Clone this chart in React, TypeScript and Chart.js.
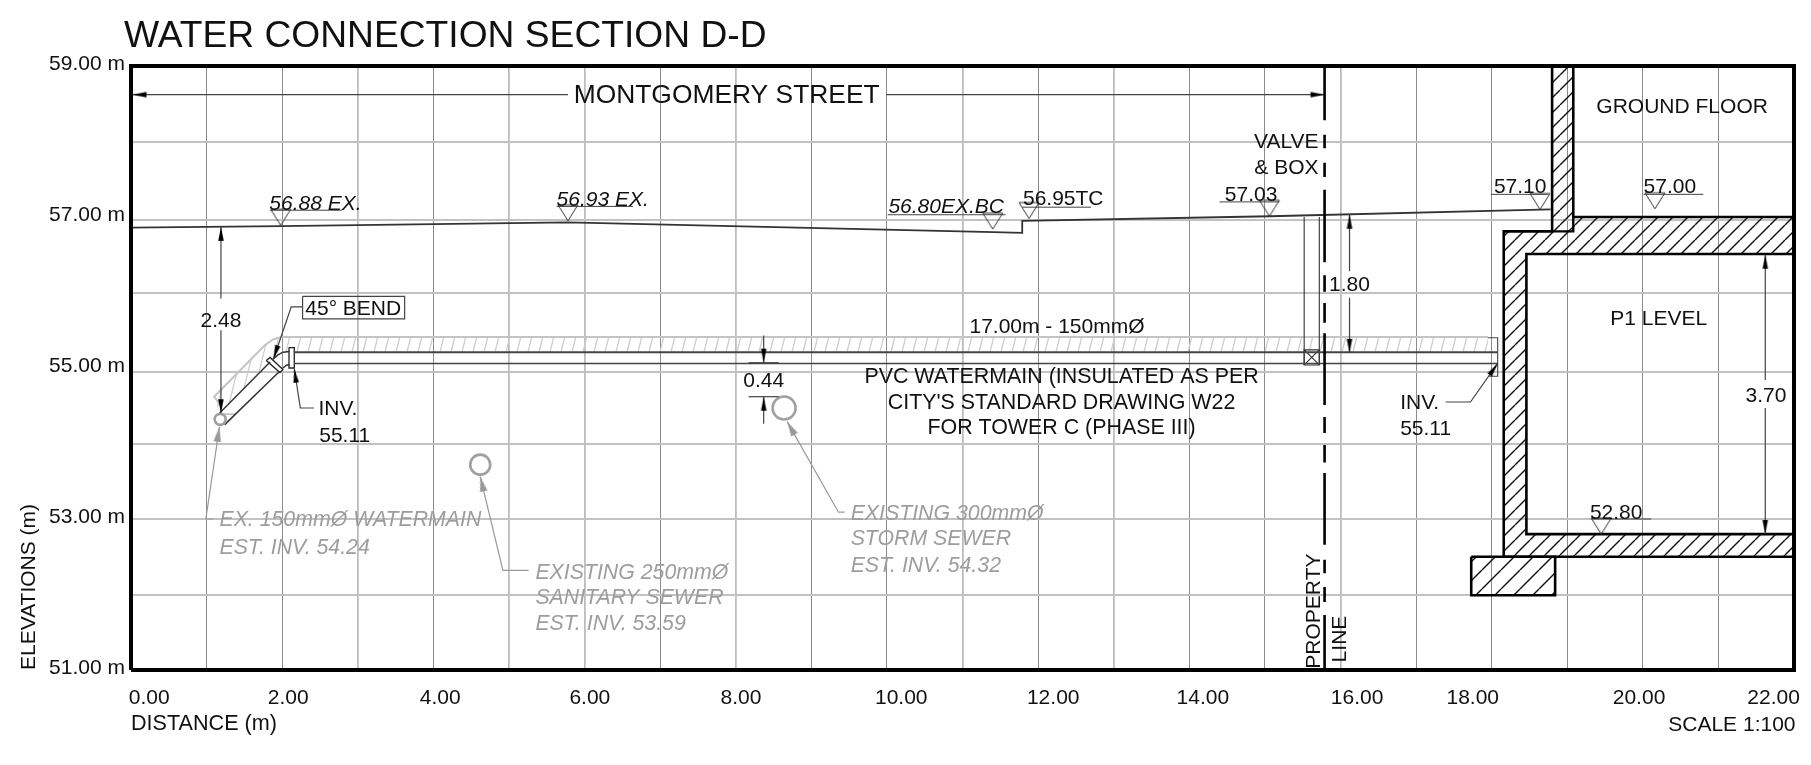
import React, { useEffect, useRef } from "react";
import { Chart, registerables } from "chart.js";

Chart.register(...registerables);

type P = [number, number];

const FONT = '"Liberation Sans", Arial, sans-serif';

// axes
const xGridValues = [0, 1, 2, 3, 4, 5, 6, 7, 8, 9, 10, 11, 12, 13, 14, 15, 16, 17, 18, 19, 20, 21, 22];
const xGridDark = [0, 1, 2, 4, 7, 9, 10, 12, 14, 15, 17, 18, 19, 20, 21];
const yGridValues = [51, 52, 53, 54, 54.95, 56, 56.96, 58, 59];
const xTickLabels = ["0.00", "2.00", "4.00", "6.00", "8.00", "10.00", "12.00", "14.00", "16.00", "18.00", "20.00", "22.00"];
const xTickPlaces = [0.24, 2.08, 4.09, 6.07, 8.07, 10.19, 12.2, 14.18, 16.22, 17.75, 19.95, 21.73];
const yTickValues = [51, 53, 55, 57, 59];

// ground and structure
const groundLine: P[] = [[0, 56.86], [1.98, 56.88], [5.78, 56.93], [11.41, 56.8], [11.79, 56.79], [11.79, 56.95], [15.07, 57.01], [18.78, 57.1]];
const pipeTop: P[] = [[2.16, 55.21], [18.08, 55.21]];
const pipeBottom: P[] = [[2.16, 55.06], [18.08, 55.06]];
const bendUpper: P[] = [[1.87, 55.11], [1.94, 55.17], [2.01, 55.21], [2.1, 55.22]];
const bendLower: P[] = [[2.01, 55.0], [2.06, 55.04], [2.1, 55.04]];
const diagUpper: P[] = [[1.17, 54.4], [1.84, 55.08]];
const diagLower: P[] = [[1.24, 54.25], [1.96, 54.95]];
const diagFoot: P[] = [[1.18, 54.39], [1.38, 54.39], [1.24, 54.25]];
const bendFlange: P[] = [[1.79, 55.1], [1.84, 55.14], [2.01, 54.98], [1.97, 54.94], [1.79, 55.1]];
const pipeFlange: P[] = [[2.09, 55.27], [2.16, 55.27], [2.16, 55.0], [2.09, 55.0], [2.09, 55.27]];
const insulationShape: P[] = [[1.1, 54.62], [1.77, 55.3], [1.88, 55.38], [1.99, 55.41], [17.95, 55.41], [17.95, 55.22], [2.1, 55.22], [1.94, 55.17], [1.87, 55.11], [1.17, 54.4], [1.1, 54.62]];
const insulationEdge: P[] = [[1.18, 54.51], [1.1, 54.62], [1.77, 55.3], [1.88, 55.38], [1.99, 55.41], [17.95, 55.41]];
const pipeEndBracket: P[] = [[17.95, 55.4], [18.08, 55.4], [18.08, 54.89], [17.96, 54.89]];
const valveLeft: P[] = [[15.52, 57.0], [15.52, 55.04]];
const valveRight: P[] = [[15.72, 57.0], [15.72, 55.04]];
const valveBox: P[] = [[15.52, 55.24], [15.72, 55.24], [15.72, 55.04], [15.52, 55.04], [15.52, 55.24], [15.72, 55.04]];
const valveCross: P[] = [[15.72, 55.24], [15.52, 55.04]];
const buildingShape: P[] = [[18.8, 59], [19.08, 59], [19.08, 57], [22, 57], [22, 56.51], [18.46, 56.51], [18.46, 52.8], [22, 52.8], [22, 52.5], [18.16, 52.5], [18.16, 56.81], [18.8, 56.81], [18.8, 59]];
const columnStep: P[] = [[18.8, 56.81], [19.08, 56.81], [19.08, 57]];
const footingShape: P[] = [[17.73, 52.5], [18.84, 52.5], [18.84, 51.99], [17.73, 51.99], [17.73, 52.5]];
const propertyDashes: P[] = [[59, 58.28], [58.09, 57.91], [57.72, 57.53], [57.36, 56.4], [56.23, 56.01], [55.86, 55.6], [55.46, 54.51], [54.35, 54.14], [53.98, 53.75], [53.61, 52.66], [52.46, 52.28], [52.1, 51.9], [51.73, 51]];
const propertyLineX = 15.79;

// existing services
const serviceCentres = [{ x: 1.18, y: 54.32 }, { x: 4.62, y: 53.72 }, { x: 8.64, y: 54.47 }];
const serviceRadii = [5.5, 10, 11.5];

// leaders and dimensions
const darkLeaders: P[][] = [
  [[0, 58.62], [5.78, 58.62]],
  [[9.99, 58.62], [15.79, 58.62]],
  [[1.19, 56.87], [1.19, 55.92]],
  [[1.19, 55.5], [1.19, 54.4]],
  [[16.12, 57.03], [16.12, 56.28]],
  [[16.12, 55.93], [16.12, 55.2]],
  [[21.62, 56.5], [21.62, 54.84]],
  [[21.62, 54.47], [21.62, 52.8]],
  [[8.37, 55.43], [8.37, 55.07]],
  [[8.37, 54.62], [8.37, 54.26]],
  [[8.17, 55.07], [8.57, 55.07]],
  [[8.17, 54.62], [8.57, 54.62]],
  [[2.27, 55.81], [2.12, 55.81], [1.885, 55.12]],
  [[2.42, 54.47], [2.24, 54.47], [2.16, 54.99]],
  [[17.39, 54.55], [17.72, 54.55], [18.08, 55.06]],
  [[2.27, 55.95], [3.62, 55.95], [3.62, 55.65], [2.27, 55.65], [2.27, 55.95]],
];
const greyLeaders: P[][] = [
  [[1.09, 53.0], [0.99, 53.0], [1.17, 54.22]],
  [[5.26, 52.32], [4.92, 52.32], [4.62, 53.56]],
  [[9.44, 53.09], [9.36, 53.09], [8.68, 54.29]],
];
const blackArrowTips = [
  { x: 1.19, y: 56.87 }, { x: 1.19, y: 54.4 }, { x: 0.02, y: 58.62 }, { x: 15.79, y: 58.62 },
  { x: 1.885, y: 55.12 }, { x: 2.16, y: 54.99 }, { x: 16.12, y: 57.03 }, { x: 16.12, y: 55.2 },
  { x: 8.37, y: 55.07 }, { x: 8.37, y: 54.62 }, { x: 18.08, y: 55.06 }, { x: 21.62, y: 56.5 }, { x: 21.62, y: 52.8 },
];
const blackArrowTurns = [0, 180, -90, 90, 198, -8, 0, 180, 180, 0, 35, 0, 180];
const greyArrowTips = [{ x: 1.17, y: 54.22 }, { x: 4.62, y: 53.56 }, { x: 8.68, y: 54.29 }];
const greyArrowTurns = [8.6, -13.7, -29.5];

// elevation markers
const levelMarkers = [
  { x: 1.98, y: 56.89 }, { x: 5.78, y: 56.95 }, { x: 11.4, y: 56.84 }, { x: 11.88, y: 56.98 },
  { x: 15.06, y: 57.01 }, { x: 18.64, y: 57.1 }, { x: 20.16, y: 57.11 }, { x: 19.45, y: 52.8 },
];
const levelUnderlines: P[][] = [
  [[1.84, 57.09], [2.79, 57.09]],
  [[5.63, 57.14], [6.64, 57.14]],
  [[10.01, 57.03], [11.57, 57.03]],
  [[11.79, 57.13], [12.7, 57.13]],
  [[14.4, 57.2], [15.19, 57.2]],
  [[17.99, 57.3], [18.75, 57.3]],
  [[20.01, 57.3], [20.8, 57.3]],
  [[19.32, 53.0], [20.11, 53.0]],
];

// notes
type Note = { t: string; x: number; y: number; size?: number; align?: CanvasTextAlign; grey?: boolean; italic?: boolean; turn?: boolean };
const notes: Note[] = [
  { t: "MONTGOMERY STREET", x: 7.88, y: 58.62, size: 26.4 },
  { t: "GROUND FLOOR", x: 20.52, y: 58.47 },
  { t: "P1 LEVEL", x: 20.21, y: 55.67 },
  { t: "VALVE", x: 15.71, y: 58.01, align: "right" },
  { t: "& BOX", x: 15.71, y: 57.67, align: "right" },
  { t: "1.80", x: 16.12, y: 56.11 },
  { t: "2.48", x: 1.19, y: 55.64 },
  { t: "3.70", x: 21.63, y: 54.65 },
  { t: "0.44", x: 8.37, y: 54.84 },
  { t: "45° BEND", x: 2.94, y: 55.8 },
  { t: "INV.", x: 2.48, y: 54.47, align: "left" },
  { t: "55.11", x: 2.49, y: 54.11, align: "left" },
  { t: "INV.", x: 16.79, y: 54.55, align: "left" },
  { t: "55.11", x: 16.79, y: 54.21, align: "left" },
  { t: "17.00m - 150mmØ", x: 12.25, y: 55.56 },
  { t: "PVC WATERMAIN (INSULATED AS PER", x: 12.31, y: 54.9, size: 21.4 },
  { t: "CITY'S STANDARD DRAWING W22", x: 12.31, y: 54.56, size: 21.4 },
  { t: "FOR TOWER C (PHASE III)", x: 12.31, y: 54.23, size: 21.4 },
  { t: "EX. 150mmØ WATERMAIN", x: 1.17, y: 53.0, align: "left", grey: true, italic: true, size: 21.3 },
  { t: "EST. INV. 54.24", x: 1.17, y: 52.64, align: "left", grey: true, italic: true, size: 21.3 },
  { t: "EXISTING 250mmØ", x: 5.35, y: 52.31, align: "left", grey: true, italic: true, size: 21.3 },
  { t: "SANITARY SEWER", x: 5.35, y: 51.97, align: "left", grey: true, italic: true, size: 21.3 },
  { t: "EST. INV. 53.59", x: 5.35, y: 51.63, align: "left", grey: true, italic: true, size: 21.3 },
  { t: "EXISTING 300mmØ", x: 9.52, y: 53.09, align: "left", grey: true, italic: true, size: 21.3 },
  { t: "STORM SEWER", x: 9.52, y: 52.75, align: "left", grey: true, italic: true, size: 21.3 },
  { t: "EST. INV. 54.32", x: 9.52, y: 52.4, align: "left", grey: true, italic: true, size: 21.3 },
  { t: "56.88 EX.", x: 1.83, y: 57.19, align: "left", italic: true },
  { t: "56.93 EX.", x: 5.63, y: 57.24, align: "left", italic: true },
  { t: "56.80EX.BC", x: 10.02, y: 57.15, align: "left", italic: true },
  { t: "56.95TC", x: 11.8, y: 57.26, align: "left" },
  { t: "57.03", x: 14.47, y: 57.31, align: "left" },
  { t: "57.10", x: 18.03, y: 57.41, align: "left" },
  { t: "57.00", x: 20.01, y: 57.41, align: "left" },
  { t: "52.80", x: 19.3, y: 53.1, align: "left" },
  { t: "PROPERTY", x: 15.61, y: 51.78, turn: true },
  { t: "LINE", x: 15.95, y: 51.41, turn: true },
  { t: "SCALE 1:100", x: 22.02, y: 50.29, align: "right" },
];

const toPoints = (pts: P[]) => pts.map(([x, y]) => ({ x, y }));

function hatchPattern(ctx: CanvasRenderingContext2D, w: number, h: number, color: string, lw: number) {
  const tile = document.createElement("canvas");
  tile.width = w;
  tile.height = h;
  const c = tile.getContext("2d")!;
  c.strokeStyle = color;
  c.lineWidth = lw;
  for (const dx of [-w, 0, w]) {
    c.beginPath();
    c.moveTo(dx, h);
    c.lineTo(dx + w, 0);
    c.stroke();
  }
  return ctx.createPattern(tile, "repeat")!;
}

function arrowSprite(len: number, wid: number, color: string) {
  const s = document.createElement("canvas");
  s.width = s.height = len * 2 + 2;
  const c = s.getContext("2d")!;
  const m = s.width / 2;
  c.fillStyle = color;
  c.beginPath();
  c.moveTo(m, m);
  c.lineTo(m + wid / 2, m + len);
  c.lineTo(m - wid / 2, m + len);
  c.closePath();
  c.fill();
  return s;
}

function levelSprite() {
  const s = document.createElement("canvas");
  s.width = s.height = 44;
  const c = s.getContext("2d")!;
  c.strokeStyle = "#333";
  c.lineWidth = 1;
  c.beginPath();
  c.moveTo(22, 22);
  c.lineTo(12, 6);
  c.lineTo(32, 6);
  c.closePath();
  c.stroke();
  return s;
}

const notesPlugin = {
  id: "drawingNotes",
  afterLayout(chart: any) {
    if (chart.titleBlock) chart.titleBlock.left = 124;
  },
  afterDatasetsDraw(chart: any) {
    const { ctx, scales } = chart;
    ctx.save();
    ctx.textBaseline = "middle";
    for (const n of notes) {
      const px = scales.x.getPixelForValue(n.x);
      const py = scales.y.getPixelForValue(n.y);
      ctx.save();
      ctx.translate(px, py);
      if (n.turn) ctx.rotate(-Math.PI / 2);
      ctx.font = `${n.italic ? "italic " : ""}${n.size ?? 21}px ${FONT}`;
      ctx.fillStyle = n.grey ? "#9d9d9d" : "#111";
      ctx.textAlign = n.align ?? "center";
      ctx.fillText(n.t, 0, n.turn ? 3.5 : 1.5);
      ctx.restore();
    }
    ctx.restore();
  },
};

export default function App() {
  const ref = useRef<HTMLCanvasElement>(null);
  useEffect(() => {
    document.body.style.margin = "0";
    const canvas = ref.current!;
    const ctx = canvas.getContext("2d")!;
    const hatch = hatchPattern(ctx, 15, 15, "#111", 1.4);
    const hatchWide = hatchPattern(ctx, 19, 19, "#111", 1.4);
    const hatchLight = hatchPattern(ctx, 11, 44, "#cfcfcf", 1.3);

    const line = (pts: P[], color: string, width: number, extra: any = {}) => ({
      type: "scatter",
      data: toPoints(pts),
      showLine: true,
      borderColor: color,
      borderWidth: width,
      backgroundColor: "transparent",
      pointRadius: 0,
      ...extra,
    });

    const datasets: any[] = [
      line([[0, 51], [22, 51], [22, 59], [0, 59], [0, 51]], "#000", 4, { clip: false }),
      ...propertyDashes.map(([a, b]) => line([[propertyLineX, a], [propertyLineX, b]], "#000", 2.6)),
      {
        type: "scatter",
        data: blackArrowTips,
        pointStyle: arrowSprite(14, 5.5, "#000"),
        rotation: blackArrowTurns,
        pointRadius: 5,
      },
      {
        type: "scatter",
        data: greyArrowTips,
        pointStyle: arrowSprite(15, 7.5, "#999"),
        rotation: greyArrowTurns,
        pointRadius: 5,
      },
      ...darkLeaders.map((p) => line(p, "#444", 1.2)),
      ...greyLeaders.map((p) => line(p, "#999", 1.2)),
      {
        type: "scatter",
        data: levelMarkers,
        pointStyle: levelSprite(),
        pointRadius: 5,
      },
      ...levelUnderlines.map((p) => line(p, "#444", 1)),
      {
        type: "scatter",
        data: serviceCentres,
        pointStyle: "circle",
        pointRadius: serviceRadii,
        pointBorderWidth: 2.6,
        pointBorderColor: "#a0a0a0",
        pointBackgroundColor: "transparent",
      },
      line(columnStep, "#000", 2.4),
      line(buildingShape, "#000", 2.6, { fill: "shape", backgroundColor: hatch }),
      line(footingShape, "#000", 2.6, { fill: "shape", backgroundColor: hatchWide }),
      line(groundLine, "#333", 1.8),
      line(pipeTop, "#444", 2),
      line(pipeBottom, "#444", 1.6),
      line(bendUpper, "#333", 1.5),
      line(bendLower, "#333", 1.5),
      line(diagUpper, "#333", 1.5),
      line(diagLower, "#333", 1.5),
      line(diagFoot, "#aaa", 1.2),
      line(bendFlange, "#222", 1.3),
      line(pipeFlange, "#222", 1.3),
      line(pipeEndBracket, "#444", 1.1),
      line(valveLeft, "#333", 1.1),
      line(valveRight, "#333", 1.1),
      line(valveBox, "#333", 1.1),
      line(valveCross, "#333", 1.1),
      line(insulationEdge, "#c4c4c4", 2),
      line(insulationShape, "transparent", 0, { fill: "shape", backgroundColor: hatchLight }),
    ];

    const chart = new Chart(ctx, {
      type: "scatter",
      data: { datasets },
      plugins: [notesPlugin],
      options: {
        animation: false,
        responsive: false,
        devicePixelRatio: 1,
        events: [],
        layout: { padding: { top: 0, right: 17, bottom: 0, left: 0 } },
        plugins: {
          legend: { display: false },
          tooltip: { enabled: false },
          title: {
            display: true,
            text: "WATER CONNECTION SECTION D-D",
            align: "start",
            color: "#111",
            font: { family: FONT, size: 37.2, weight: "normal", lineHeight: 1.2 },
            padding: { top: 14, bottom: 7.36 },
          },
        },
        scales: {
          x: {
            type: "linear",
            min: 0,
            max: 22,
            afterBuildTicks: (s: any) => { s.ticks = xGridValues.map((value) => ({ value })); },
            afterFit: (s: any) => { s.height = 0; },
            ticks: { display: false },
            border: { display: false },
            grid: {
              drawTicks: false,
              color: (c: any) => (xGridDark.includes(c.tick?.value) ? "#8c8c8c" : "#bdbdbd"),
              lineWidth: (c: any) => (xGridDark.includes(c.tick?.value) ? 1 : 1.8),
            },
          },
          xLabels: {
            type: "linear",
            axis: "x",
            position: "bottom",
            min: 0,
            max: 22,
            afterBuildTicks: (s: any) => { s.ticks = xTickPlaces.map((value) => ({ value })); },
            afterFit: (s: any) => { s.height = 95; },
            grid: { display: false },
            border: { display: false },
            ticks: {
              autoSkip: false,
              maxRotation: 0,
              minRotation: 0,
              padding: 8,
              color: "#111",
              font: { family: FONT, size: 21 },
              callback: (_v: any, i: number) => xTickLabels[i],
            },
            title: {
              display: true,
              text: "DISTANCE (m)",
              align: "start",
              color: "#111",
              font: { family: FONT, size: 21.6 },
              padding: { top: 0, bottom: 28 },
            },
          },
          y: {
            type: "linear",
            min: 51,
            max: 59,
            afterBuildTicks: (s: any) => { s.ticks = yGridValues.map((value) => ({ value })); },
            afterFit: (s: any) => { s.width = 0; },
            ticks: { display: false },
            border: { display: false },
            grid: { drawTicks: false, color: "#c2c2c2", lineWidth: 2 },
          },
          yLabels: {
            type: "linear",
            axis: "y",
            position: "left",
            min: 50.97,
            max: 58.97,
            afterBuildTicks: (s: any) => { s.ticks = yTickValues.map((value) => ({ value })); },
            afterFit: (s: any) => { s.width = 131; },
            grid: { display: false },
            border: { display: false },
            ticks: {
              autoSkip: false,
              padding: -2,
              color: "#111",
              font: { family: FONT, size: 21 },
              callback: (v: any) => `${Number(v).toFixed(2)} m`,
            },
            title: {
              display: true,
              text: "ELEVATIONS (m)",
              align: "start",
              color: "#111",
              font: { family: FONT, size: 21 },
              padding: { top: 17, bottom: 0 },
            },
          },
        },
      } as any,
    } as any);
    return () => chart.destroy();
  }, []);
  return <canvas ref={ref} width={1811} height={765} style={{ display: "block" }} />;
}
